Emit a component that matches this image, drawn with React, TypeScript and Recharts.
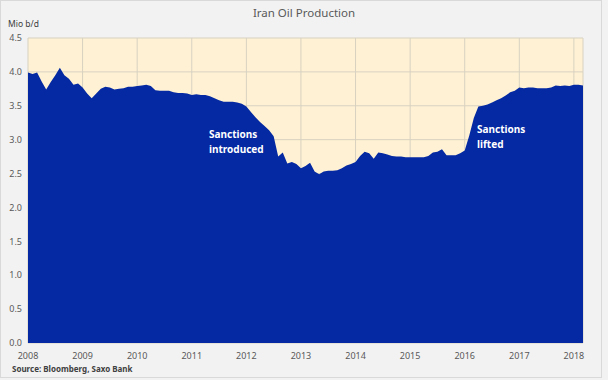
import React from 'react';
import { AreaChart, Area, XAxis, YAxis, CartesianGrid } from 'recharts';

const years = [2008, 2009, 2010, 2011, 2012, 2013, 2014, 2015, 2016, 2017, 2018];
const yTicks = [0, 0.5, 1, 1.5, 2, 2.5, 3, 3.5, 4, 4.5];

const prod2008 = [3.99, 3.97, 3.99, 3.86, 3.74, 3.85, 3.95, 4.06, 3.95, 3.9, 3.81, 3.83];
const prod2009 = [3.77, 3.68, 3.61, 3.68, 3.75, 3.78, 3.77, 3.74, 3.75, 3.76, 3.78, 3.78];
const prod2010 = [3.79, 3.8, 3.81, 3.79, 3.73, 3.72, 3.72, 3.72, 3.7, 3.69, 3.69, 3.68];
const prod2011 = [3.66, 3.67, 3.66, 3.66, 3.64, 3.61, 3.58, 3.56, 3.56, 3.56, 3.55, 3.53];
const prod2012 = [3.49, 3.41, 3.33, 3.26, 3.2, 3.14, 3.05, 2.75, 2.81, 2.65, 2.67, 2.64];
const prod2013 = [2.58, 2.61, 2.66, 2.53, 2.49, 2.53, 2.54, 2.54, 2.55, 2.58, 2.62, 2.64];
const prod2014 = [2.67, 2.76, 2.82, 2.8, 2.72, 2.81, 2.8, 2.78, 2.76, 2.75, 2.75, 2.74];
const prod2015 = [2.74, 2.74, 2.74, 2.74, 2.76, 2.81, 2.82, 2.86, 2.77, 2.77, 2.77, 2.8];
const prod2016 = [2.84, 3.06, 3.32, 3.49, 3.5, 3.52, 3.55, 3.58, 3.61, 3.65, 3.7, 3.72];
const prod2017 = [3.77, 3.76, 3.77, 3.77, 3.76, 3.76, 3.76, 3.77, 3.8, 3.79, 3.8, 3.79];
const prod2018 = [3.81, 3.81, 3.8];

const byYear = [prod2008, prod2009, prod2010, prod2011, prod2012, prod2013, prod2014, prod2015, prod2016, prod2017, prod2018];

const data = byYear.flatMap((vals, yi) =>
  vals.map((v, mi) => ({ t: years[yi] + mi / 12, value: v }))
);

const FONT = '"Noto Sans", "Open Sans", sans-serif';
const TEXT = '#595959';

export default function App() {
  return (
    <div style={{ position: 'absolute', left: 0, top: 0, width: 608, height: 380, background: '#f2f2f2' }}>
      <svg width={608} height={380} style={{ position: 'absolute', left: 0, top: 0 }}>
        <rect x={0.5} y={0.5} width={601} height={377} fill="#f2f2f2" stroke="#d9d9d9" />
      </svg>
      <div style={{ position: 'absolute', left: 0, top: 0 }}>
        <AreaChart
          width={608}
          height={380}
          data={data}
          margin={{ top: 38, right: 25, bottom: 17, left: 0 }}
        >
          <CartesianGrid stroke="#d8d1c1" fill="#fff2d4" vertical horizontal />
          <XAxis
            dataKey="t"
            type="number"
            domain={[2008, 2018 + 2 / 12]}
            ticks={years}
            interval={0}
            axisLine={false}
            tickLine={false}
            tickSize={4}
            tickMargin={6}
            height={20}
            tick={{ fill: TEXT, fontSize: 9, fontFamily: FONT }}
            tickFormatter={(v: number) => String(Math.round(v))}
          />
          <YAxis
            type="number"
            domain={[0, 4.5]}
            ticks={yTicks}
            interval={0}
            axisLine={false}
            tickLine={false}
            tickSize={4}
            tickMargin={2}
            width={28}
            tick={{ fill: TEXT, fontSize: 9, fontFamily: FONT }}
            tickFormatter={(v: number) => v.toFixed(1)}
          />
          <Area
            type="linear"
            dataKey="value"
            stroke="none"
            fill="#0429a2"
            fillOpacity={1}
            isAnimationActive={false}
          />
        </AreaChart>
      </div>
      <svg width={608} height={380} style={{ position: 'absolute', left: 0, top: 0, pointerEvents: 'none' }}>
        <text x={304} y={17} textAnchor="middle" fill={TEXT} fontSize={11.5} fontFamily={FONT}>
          Iran Oil Production
        </text>
        <text x={8} y={27} fill="#404040" fontSize={8.5} fontFamily={FONT}>
          Mio b/d
        </text>
        <text x={12} y={372} fill="#404040" fontSize={8} fontWeight="bold" fontFamily={FONT}>
          Source: Bloomberg, Saxo Bank
        </text>
        <text x={209} y={138} fill="#ffffff" fontSize={10} fontWeight="bold" fontFamily={FONT}>
          Sanctions
        </text>
        <text x={209} y={153} fill="#ffffff" fontSize={10} fontWeight="bold" fontFamily={FONT}>
          introduced
        </text>
        <text x={477} y={133} fill="#ffffff" fontSize={10} fontWeight="bold" fontFamily={FONT}>
          Sanctions
        </text>
        <text x={477} y={148} fill="#ffffff" fontSize={10} fontWeight="bold" fontFamily={FONT}>
          lifted
        </text>
      </svg>
    </div>
  );
}
